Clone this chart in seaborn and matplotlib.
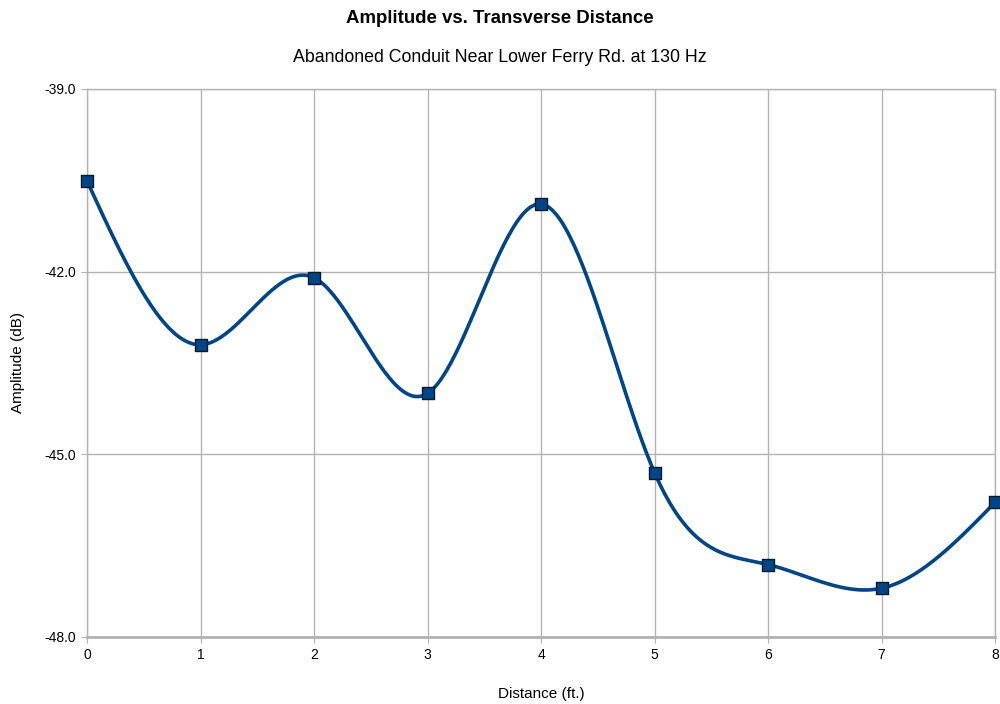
import numpy as np
import seaborn as sns
import matplotlib
matplotlib.use('Agg')
import matplotlib.pyplot as plt

# data
distance = [0, 1, 2, 3, 4, 5, 6, 7, 8]
amplitude = [-40.51, -43.20, -42.10, -44.00, -40.89, -45.30, -46.81, -47.20, -45.79]
yticks = [-39.0, -42.0, -45.0, -48.0]


def natural_spline(x, y, n=400):
    # natural cubic spline, only used to draw the smoothed line
    x = np.asarray(x, float)
    y = np.asarray(y, float)
    k = len(x)
    h = np.diff(x)
    A = np.zeros((k, k))
    b = np.zeros(k)
    A[0, 0] = 1
    A[-1, -1] = 1
    for i in range(1, k - 1):
        A[i, i - 1] = h[i - 1]
        A[i, i] = 2 * (h[i - 1] + h[i])
        A[i, i + 1] = h[i]
        b[i] = 3 * ((y[i + 1] - y[i]) / h[i] - (y[i] - y[i - 1]) / h[i - 1])
    c = np.linalg.solve(A, b)
    xs = np.linspace(x[0], x[-1], n)
    idx = np.clip(np.searchsorted(x, xs) - 1, 0, k - 2)
    dx = xs - x[idx]
    hi = h[idx]
    bb = (y[idx + 1] - y[idx]) / hi - hi * (2 * c[idx] + c[idx + 1]) / 3
    dd = (c[idx + 1] - c[idx]) / (3 * hi)
    ys = y[idx] + bb * dx + c[idx] * dx ** 2 + dd * dx ** 3
    return xs, ys


sns.set_style('white')
plt.rcParams['font.family'] = ['Liberation Sans Narrow', 'Liberation Sans', 'DejaVu Sans']
plt.rcParams['text.color'] = 'black'
plt.rcParams['axes.labelcolor'] = 'black'

fig = plt.figure(figsize=(10, 7.04), dpi=100)
ax = fig.add_axes([0.087, 0.0952, 0.908, 0.7784])

xs, ys = natural_spline(distance, amplitude)
sns.lineplot(x=xs, y=ys, ax=ax, color='#004586', linewidth=2.6, sort=False, zorder=3)
sns.scatterplot(x=distance, y=amplitude, ax=ax, marker='s', s=80, color='#004586',
                edgecolor='#0a1a2a', linewidth=1.0, zorder=4, clip_on=False)

ax.set_xlim(0, 8)
ax.set_ylim(-48, -39)
ax.set_xticks(distance)
ax.set_yticks(yticks)
ax.set_yticklabels([f'{v:.1f}' for v in yticks])
ax.grid(True, color='#b3b3b3', linewidth=1.0)
for s in ['left', 'right', 'top']:
    ax.spines[s].set_color('#b3b3b3')
    ax.spines[s].set_linewidth(1.0)
ax.spines['bottom'].set_color('#b3b3b3')
ax.spines['bottom'].set_linewidth(2.0)
ax.tick_params(axis='both', length=4, color='#b3b3b3', labelsize=10, labelcolor='black', pad=4)
ax.tick_params(left=True, bottom=True, direction='out')

ax.set_xlabel('Distance (ft.)', fontsize=11, labelpad=18)
ax.set_ylabel('Amplitude (dB)', fontsize=11, labelpad=14)

fig.text(0.5, 0.974, 'Amplitude vs. Transverse Distance', ha='center', va='center',
         fontsize=13.4, fontweight='bold')
fig.text(0.5, 0.919, 'Abandoned Conduit Near Lower Ferry Rd. at 130 Hz', ha='center',
         va='center', fontsize=12.8)

fig.savefig('out.png', dpi=100)
